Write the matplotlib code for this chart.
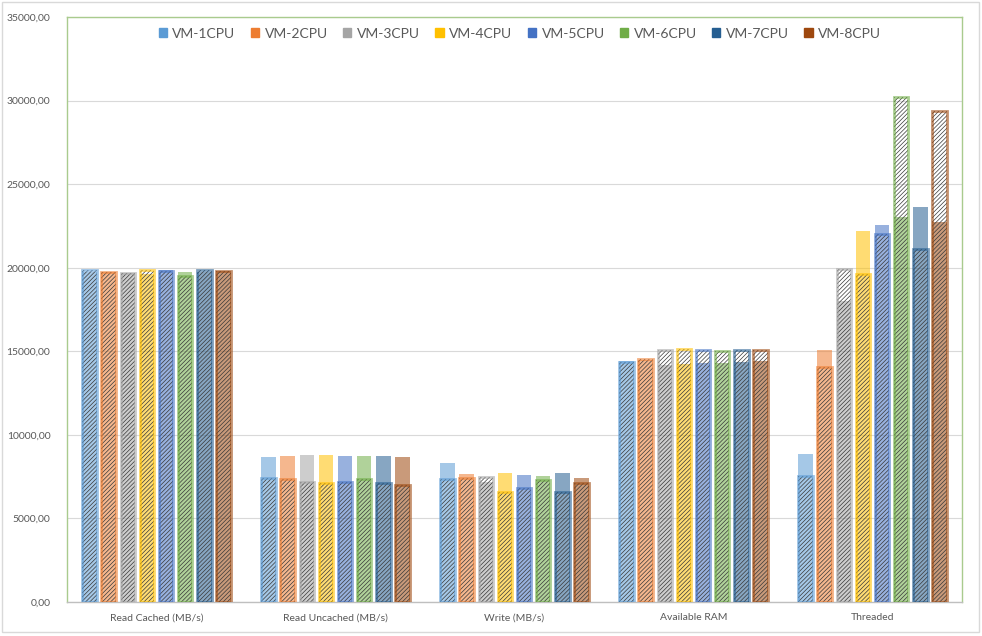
import matplotlib.pyplot as plt
import matplotlib.patches as mpatches
from matplotlib.ticker import FuncFormatter
import numpy as np

plt.rcParams['font.family'] = ['Lato', 'DejaVu Sans']
plt.rcParams['hatch.linewidth'] = 0.5

# Data (MB/s or equivalent units)
categories = ['Read Cached (MB/s)', 'Read Uncached (MB/s)', 'Write (MB/s)', 'Available RAM', 'Threaded']
series = ['VM-1CPU', 'VM-2CPU', 'VM-3CPU', 'VM-4CPU', 'VM-5CPU', 'VM-6CPU', 'VM-7CPU', 'VM-8CPU']
colors = ['#5B9BD5', '#ED7D31', '#A5A5A5', '#FFC000', '#4472C4', '#70AD47', '#255E91', '#9E480E']

# solid (light) bars per VM, one value per category
solid_vals = [
    [19750, 8660, 8345, 14400, 8850],   # VM-1
    [19750, 8720, 7640, 14500, 15070],  # VM-2
    [19700, 8780, 7160, 14150, 18000],  # VM-3
    [19650, 8780, 7700, 14250, 22210],  # VM-4
    [19850, 8720, 7580, 14300, 22530],  # VM-5
    [19750, 8720, 7520, 14280, 23010],  # VM-6
    [19750, 8720, 7700, 14350, 23650],  # VM-7
    [19800, 8660, 7400, 14420, 22750],  # VM-8
]
# hatched bars per VM
hatch_vals = [
    [19850, 7400, 7340, 14380, 7540],   # VM-1
    [19720, 7380, 7400, 14560, 14080],  # VM-2
    [19680, 7160, 7500, 15080, 19930],  # VM-3
    [19880, 7140, 6580, 15120, 19600],  # VM-4
    [19780, 7160, 6820, 15080, 21990],  # VM-5
    [19480, 7340, 7320, 15040, 30230],  # VM-6
    [19850, 7100, 6580, 15080, 21090],  # VM-7
    [19780, 6980, 7140, 15080, 29400],  # VM-8
]

fig = plt.figure(figsize=(9.82, 6.36), dpi=100)
ax = fig.add_axes([67 / 982, 34 / 636, 895 / 982, 585 / 636])

x = np.arange(len(categories))
slot = 0.107
width = 0.08
for i, (name, c) in enumerate(zip(series, colors)):
    pos = x + (i - 3.5) * slot
    ax.bar(pos, solid_vals[i], width, color=c, alpha=0.55, linewidth=0, zorder=2)
    ax.bar(pos, hatch_vals[i], width, fill=False, hatch='/' * 8, edgecolor='#383838',
           linewidth=0, zorder=3)
    ax.bar(pos, hatch_vals[i], width, fill=False, edgecolor=c, alpha=0.6,
           linewidth=2.0, zorder=4)

ax.set_xlim(-0.5, len(categories) - 0.5)
ax.set_ylim(0, 35000)
ax.set_yticks(np.arange(0, 35001, 5000))
ax.yaxis.set_major_formatter(FuncFormatter(lambda v, p: f'{v:.2f}'.replace('.', ',')))
ax.set_xticks(x)
ax.set_xticklabels(categories)
ax.tick_params(axis='y', length=0, pad=12, labelsize=7.5, labelcolor='#595959')
ax.tick_params(axis='x', length=0, pad=8, labelsize=7.5, labelcolor='#595959')
ax.grid(axis='y', color='#D9D9D9', linewidth=0.8, zorder=0)
ax.set_axisbelow(True)

for side in ['left', 'top', 'right']:
    ax.spines[side].set_color('#A9CB8E')
    ax.spines[side].set_linewidth(1.0)
ax.spines['bottom'].set_color('#BFBFBF')
ax.spines['bottom'].set_linewidth(1.0)

handles = [mpatches.Patch(color=c, label=s) for s, c in zip(series, colors)]
ax.legend(handles=handles, loc='upper center', bbox_to_anchor=(0.506, 1.003), ncol=8,
          frameon=False, fontsize=10, handlelength=0.6, handleheight=0.6,
          handletextpad=0.4, columnspacing=1.1, labelcolor='#595959')

# outer chart border
fig.patches.append(mpatches.Rectangle((2 / 982, 4 / 636), 977 / 982, 630 / 636,
                                      transform=fig.transFigure, fill=False,
                                      edgecolor='#D9D9D9', linewidth=1.0))

fig.savefig('out.png', dpi=100)
